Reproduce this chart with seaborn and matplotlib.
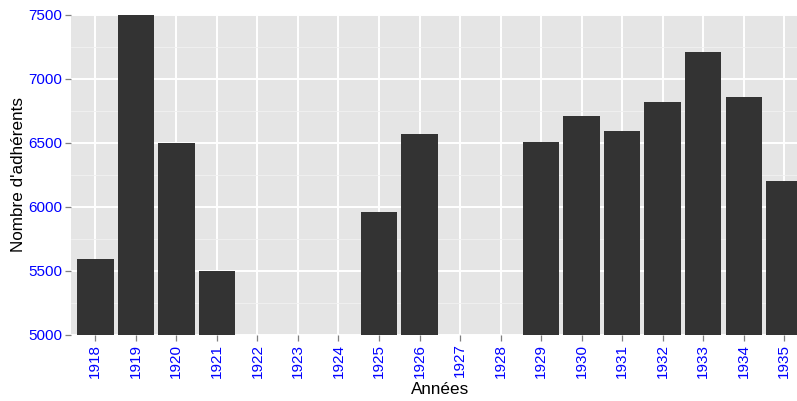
import matplotlib
matplotlib.use("Agg")
import matplotlib.pyplot as plt
from matplotlib.ticker import MultipleLocator
import pandas as pd
import seaborn as sns

# Membership by year (years without data are left empty)
years = [str(y) for y in range(1918, 1936)]
data_years = ["1918", "1919", "1920", "1921", "1925", "1926", "1929", "1930",
              "1931", "1932", "1933", "1934", "1935"]
members = [5596, 7500, 6500, 5500, 5961, 6570, 6508, 6711,
           6594, 6820, 7211, 6859, 6203]
y_ticks = [5000, 5500, 6000, 6500, 7000, 7500]

df = pd.DataFrame({"annee": data_years, "adherents": members})

sns.set_theme(style="darkgrid")
plt.rcParams["font.family"] = ["Liberation Sans", "DejaVu Sans"]

fig = plt.figure(figsize=(7.97, 4.01), dpi=100)
ax = fig.add_axes([71 / 797, 1 - 335 / 401, (808.6 - 71) / 797, 320 / 401])
ax.set_facecolor("#E5E5E5")

sns.barplot(data=df, x="annee", y="adherents", order=years, color="#333333",
            saturation=1, width=0.9, ax=ax, zorder=3)
for p in ax.patches:
    p.set_edgecolor("none")

ax.set_xlim(-0.6, len(years) - 0.4)
ax.set_ylim(5000, 7500)
ax.set_yticks(y_ticks)
ax.yaxis.set_minor_locator(MultipleLocator(250))

ax.grid(which="major", color="white", linewidth=1.4, zorder=0)
ax.grid(which="minor", axis="y", color="#F2F2F2", linewidth=0.6, zorder=0)
ax.set_axisbelow(True)
for s in ax.spines.values():
    s.set_visible(False)

ax.tick_params(axis="both", which="major", colors="#7F7F7F", length=4.2,
               width=0.9, labelcolor="blue", labelsize=11, pad=2)
ax.tick_params(axis="y", which="minor", length=0)
ax.tick_params(axis="x", labelrotation=90)
ax.tick_params(axis="y", left=True)
ax.tick_params(axis="x", bottom=True)

ax.set_xlabel("Années", fontsize=12.3, color="black")
ax.set_ylabel("Nombre d'adhérents", fontsize=12.3, color="black")
ax.xaxis.set_label_coords((440 - 71) / (808.6 - 71), -(382 - 335) / 320)
ax.yaxis.set_label_coords(-(71 - 26) / (808.6 - 71), 0.5)

fig.savefig("out.png", dpi=100, facecolor="white")
